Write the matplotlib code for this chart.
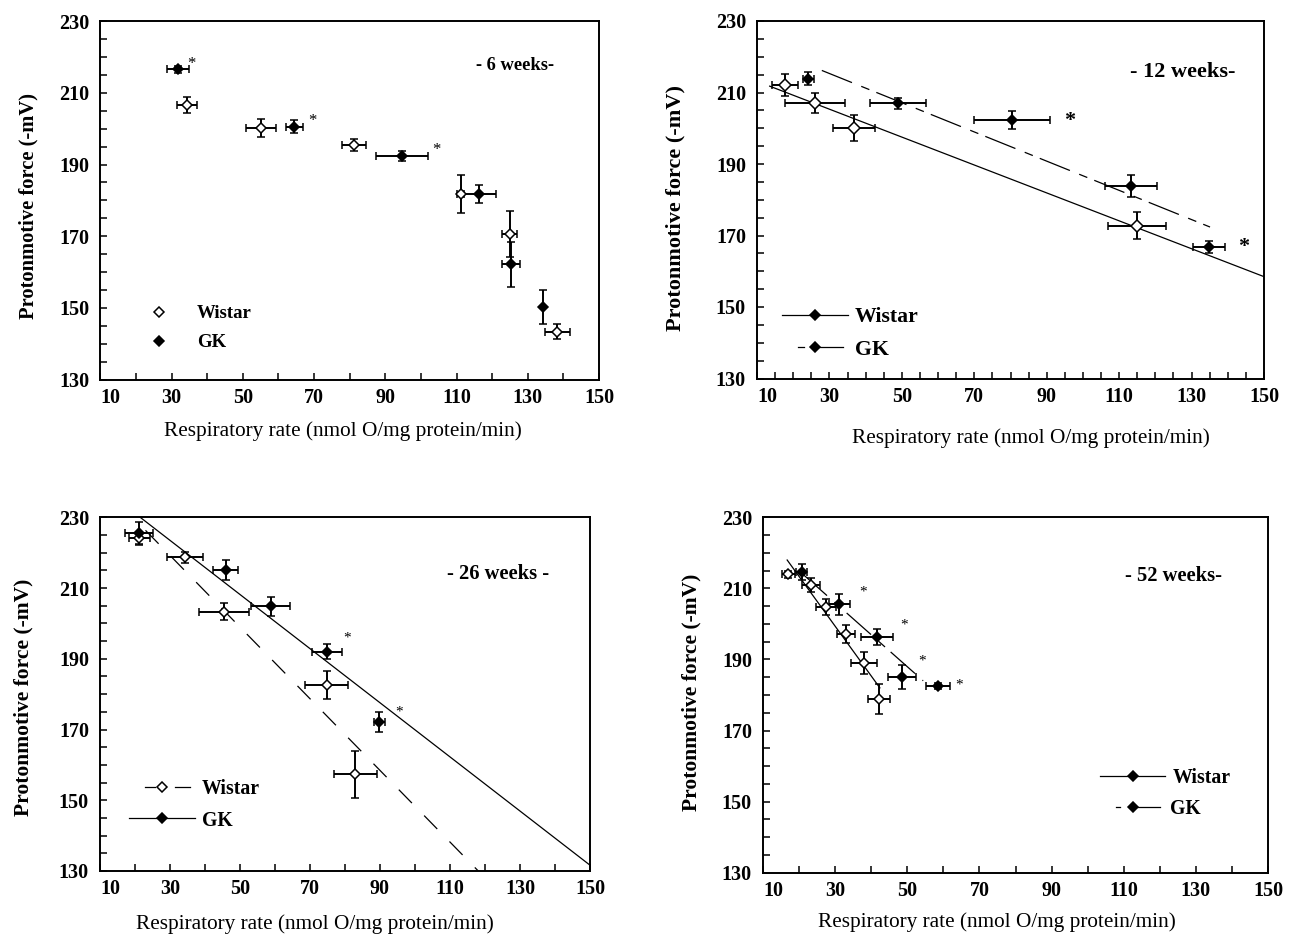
import numpy as np
import matplotlib.pyplot as plt
from matplotlib.ticker import MultipleLocator

plt.rcParams['font.family'] = ['Liberation Serif', 'DejaVu Serif']

# 6 weeks
w6_x = [34.4, 55.1, 81.2, 111.2, 124.9, 138.3]
w6_y = [206.6, 200.1, 195.4, 181.8, 170.6, 143.4]
w6_xerr = [2.8, 4.3, 3.5, 1.0, 2.0, 3.5]
w6_yerr = [2.3, 2.5, 1.6, 5.3, 6.3, 2.2]
g6_x = [31.9, 64.5, 94.6, 116.2, 125.3, 134.2]
g6_y = [216.6, 200.5, 192.4, 181.8, 162.2, 150.3]
g6_xerr = [3.1, 2.5, 7.3, 5.0, 2.4, 0.0]
g6_yerr = [1.0, 1.8, 1.4, 2.6, 6.3, 4.7]
star6_x = [35.6, 69.5, 104.2]
star6_y = [218.7, 202.7, 194.7]

# 12 weeks
w12_x = [17.7, 26.0, 36.8, 114.9]
w12_y = [212.1, 207.1, 200.0, 172.7]
w12_xerr = [3.5, 8.2, 5.7, 8.1]
w12_yerr = [3.0, 2.9, 3.7, 3.8]
g12_x = [24.2, 49.0, 80.4, 113.2, 134.7]
g12_y = [213.9, 207.0, 202.3, 183.8, 166.8]
g12_xerr = [1.6, 7.7, 10.6, 7.2, 4.4]
g12_yerr = [1.7, 1.5, 2.4, 3.0, 1.8]
w12_span = [13.5, 150]
g12_span = [27.9, 135.1]
star12_x = [96.3, 144.3]
star12_y = [202.8, 167.6]

# 26 weeks
w26_x = [21.2, 34.3, 45.5, 74.8, 82.9]
w26_y = [224.1, 218.7, 203.3, 182.6, 157.3]
w26_xerr = [3.0, 5.1, 7.1, 6.1, 6.1]
w26_yerr = [1.8, 1.6, 2.4, 4.0, 6.6]
g26_x = [21.2, 45.9, 58.8, 74.9, 89.8]
g26_y = [225.6, 215.1, 204.9, 192.0, 172.2]
g26_xerr = [4.0, 3.5, 5.6, 4.2, 1.6]
g26_yerr = [3.2, 2.8, 2.7, 2.2, 2.8]
w26_span = [23.0, 125]
g26_span = [21.0, 150]
star26_x = [80.5, 95.4]
star26_y = [196.4, 175.5]

# 52 weeks
w52_x = [17.0, 23.2, 27.5, 33.0, 38.1, 42.2]
w52_y = [214.0, 210.9, 204.7, 197.2, 189.1, 178.8]
w52_xerr = [1.8, 2.5, 2.7, 2.4, 3.6, 3.0]
w52_yerr = [1.0, 1.9, 2.3, 2.6, 3.1, 4.2]
g52_x = [20.7, 31.2, 41.7, 48.5, 58.6]
g52_y = [214.5, 205.5, 196.4, 185.1, 182.6]
g52_xerr = [1.6, 3.0, 4.4, 3.9, 3.3]
g52_yerr = [2.3, 3.0, 2.3, 3.4, 0.8]
w52_span = [16.7, 42.4]
g52_span = [21.0, 54.4]
star52_x = [37.8, 49.2, 54.0, 64.4]
star52_y = [209.3, 200.2, 190.1, 183.1]

W, H = 1294, 936
fig = plt.figure(figsize=(W / 100, H / 100), dpi=100)


def add_panel(left, top, right, bottom):
    # panel box given in pixels from the top-left corner
    return fig.add_axes([left / W, 1 - bottom / H, (right - left) / W, (bottom - top) / H])


def style(ax, xminor, ylab_fs):
    ax.set_xlim(10, 150)
    ax.set_ylim(130, 230)
    ax.set_xticks(range(10, 151, 20))
    ax.set_yticks(range(130, 231, 20))
    ax.xaxis.set_minor_locator(MultipleLocator(xminor))
    ax.yaxis.set_minor_locator(MultipleLocator(5))
    ax.tick_params(which='both', direction='in', length=5, width=1.1, labelsize=14.5)
    ax.tick_params(axis='x', pad=6)
    ax.tick_params(axis='y', pad=8)
    for lab in ax.get_xticklabels() + ax.get_yticklabels():
        lab.set_fontweight('bold')
    # first x label sits just right of the corner so it clears the "130"
    ax.get_xticklabels()[0].set_horizontalalignment('left')
    for sp in ax.spines.values():
        sp.set_linewidth(1.4)
    ax.set_xlabel('Respiratory rate (nmol O/mg protein/min)', fontsize=15.3)
    ax.set_ylabel('Protonmotive force (-mV)', fontsize=ylab_fs, fontweight='bold')


def points(ax, x, y, xerr, yerr, filled, ms):
    ax.errorbar(x, y, xerr=xerr, yerr=yerr, fmt='D', ms=ms,
                mfc='black' if filled else 'white', mec='black', mew=1.1,
                ecolor='black', elinewidth=1.4, capsize=3, capthick=1.4, zorder=3)


def fit_line(ax, x, y, span, **kw):
    slope, icpt = np.polyfit(x, y, 1)
    xs = np.array(span)
    ax.plot(xs, icpt + slope * xs, color='black', lw=0.9, zorder=2, **kw)


def stars(ax, x, y, fs, weight='normal'):
    for sx, sy in zip(x, y):
        ax.text(sx, sy, '*', ha='center', va='center_baseline', fontsize=fs, fontweight=weight)


def key(ax, segs, mx, y, filled, ms, label, tx, fs, ls='-'):
    # legend entry drawn in axes fraction
    for x0, x1 in segs:
        ax.plot([x0, x1], [y, y], color='black', lw=0.9, ls=ls, transform=ax.transAxes)
    ax.plot([mx], [y], 'D', ms=ms, mfc='black' if filled else 'white', mec='black', mew=1.1,
            transform=ax.transAxes)
    ax.text(tx, y, label, ha='left', va='center_baseline', fontsize=fs, fontweight='bold',
            transform=ax.transAxes)


gk_dash = (26, 8, 7, 6)

# ---- 6 weeks
ax1 = add_panel(100.4, 21.1, 599, 379.6)
style(ax1, 10, 14.8)
points(ax1, w6_x, w6_y, w6_xerr, w6_yerr, False, 5.0)
points(ax1, g6_x, g6_y, g6_xerr, g6_yerr, True, 4.8)
stars(ax1, star6_x, star6_y, 12)
ax1.text(0.832, 0.883, '- 6 weeks-', transform=ax1.transAxes, ha='center',
         va='center_baseline', fontsize=13.3, fontweight='bold')
key(ax1, [], 0.118, 0.189, False, 5.0, 'Wistar', 0.193, 13.5)
key(ax1, [], 0.118, 0.108, True, 5.0, 'GK', 0.193, 13.5)
ax1.yaxis.set_label_coords(-0.125, 0.483)
ax1.xaxis.set_label_coords(0.487, -0.115)

# ---- 12 weeks
ax2 = add_panel(757, 21, 1264, 378.5)
style(ax2, 5, 16)
fit_line(ax2, w12_x, w12_y, w12_span)
fit_line(ax2, g12_x, g12_y, g12_span, dashes=gk_dash)
points(ax2, w12_x, w12_y, w12_xerr, w12_yerr, False, 6.6)
points(ax2, g12_x, g12_y, g12_xerr, g12_yerr, True, 5.5)
stars(ax2, star12_x, star12_y, 16, 'bold')
ax2.text(0.84, 0.863, '- 12 weeks-', transform=ax2.transAxes, ha='center',
         va='center_baseline', fontsize=16, fontweight='bold')
key(ax2, [(0.0487, 0.180)], 0.114, 0.178, True, 5.2, 'Wistar', 0.193, 15.7)
key(ax2, [(0.081, 0.093), (0.114, 0.170)], 0.114, 0.087, True, 5.2, 'GK', 0.193, 15.7)
ax2.yaxis.set_label_coords(-0.142, 0.478)
ax2.xaxis.set_label_coords(0.54, -0.14)

# ---- 26 weeks
ax3 = add_panel(100, 517.3, 590, 871)
style(ax3, 10, 15.5)
fit_line(ax3, g26_x, g26_y, g26_span)
fit_line(ax3, w26_x, w26_y, w26_span, dashes=(15, 14))
points(ax3, w26_x, w26_y, w26_xerr, w26_yerr, False, 5.3)
points(ax3, g26_x, g26_y, g26_xerr, g26_yerr, True, 5.6)
stars(ax3, star26_x, star26_y, 11)
ax3.text(0.813, 0.846, '- 26 weeks -', transform=ax3.transAxes, ha='center',
         va='center_baseline', fontsize=14.8, fontweight='bold')
key(ax3, [(0.092, 0.112), (0.153, 0.184)], 0.126, 0.238, False, 5.2, 'Wistar', 0.2075, 14.2)
key(ax3, [(0.059, 0.194)], 0.126, 0.149, True, 5.2, 'GK', 0.2075, 14.2)
ax3.yaxis.set_label_coords(-0.135, 0.49)
ax3.xaxis.set_label_coords(0.439, -0.123)

# ---- 52 weeks
ax4 = add_panel(763, 517.2, 1268, 872.8)
style(ax4, 10, 15.5)
fit_line(ax4, w52_x, w52_y, w52_span)
fit_line(ax4, g52_x, g52_y, g52_span, dashes=gk_dash)
points(ax4, w52_x, w52_y, w52_xerr, w52_yerr, False, 5.4)
points(ax4, g52_x, g52_y, g52_xerr, g52_yerr, True, 5.5)
stars(ax4, star52_x, star52_y, 11)
ax4.text(0.812, 0.842, '- 52 weeks-', transform=ax4.transAxes, ha='center',
         va='center_baseline', fontsize=14.8, fontweight='bold')
key(ax4, [(0.667, 0.796)], 0.732, 0.273, True, 5.2, 'Wistar', 0.812, 14.2)
key(ax4, [(0.699, 0.707), (0.732, 0.786)], 0.732, 0.186, True, 5.2, 'GK', 0.806, 14.2)
ax4.yaxis.set_label_coords(-0.121, 0.508)
ax4.xaxis.set_label_coords(0.464, -0.11)

fig.savefig('out.png', dpi=100)
